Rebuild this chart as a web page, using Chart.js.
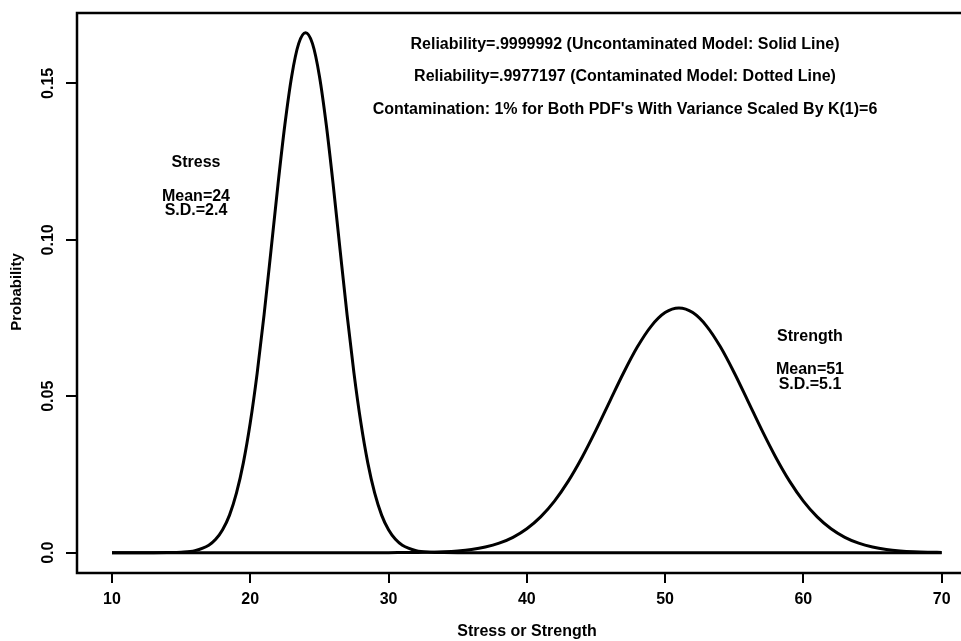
<!DOCTYPE html>
<html>
<head>
<meta charset="utf-8">
<script src="https://cdn.jsdelivr.net/npm/chart.js@4/dist/chart.umd.min.js"></script>
<style>
  html, body { margin: 0; padding: 0; background: #fff; }
  #wrap { width: 961px; height: 641px; position: relative; }
</style>
</head>
<body>
<div id="wrap"><canvas id="c"></canvas></div>
<script>
// values
var stressX = [10, 13, 14, 15, 16, 17, 17.5, 18, 18.5, 19, 19.5, 20, 20.5, 21, 21.5, 22, 22.5, 23, 23.5, 24,
  24.5, 25, 25.5, 26, 26.5, 27, 27.5, 28, 28.5, 29, 29.5, 30, 30.5, 31, 32, 33, 34, 35, 70];
var stressY = [0, 0, 0.00003, 0.00015, 0.00064, 0.00236, 0.00425, 0.0073, 0.0120, 0.0190, 0.0287, 0.0415, 0.0574, 0.0761, 0.0966, 0.1175, 0.1367, 0.1524, 0.1627, 0.1662,
  0.1627, 0.1524, 0.1367, 0.1175, 0.0966, 0.0761, 0.0574, 0.0415, 0.0287, 0.0190, 0.0120, 0.0073, 0.00425, 0.00236, 0.00064, 0.00015, 0.00003, 0, 0];

var strengthX = [10, 30, 31, 32, 33, 34, 35, 36, 37, 38, 39, 40, 41, 42, 43, 44, 45, 46, 47, 48, 49, 50,
  51, 52, 53, 54, 55, 56, 57, 58, 59, 60, 61, 62, 63, 64, 65, 66, 67, 68, 69, 70];
var strengthY = [0, 0, 0.00004, 0.00008, 0.00015, 0.00030, 0.00057, 0.00103, 0.00181, 0.00304, 0.00491, 0.00764, 0.01144, 0.01649, 0.02286, 0.03050, 0.03915, 0.04837, 0.05751, 0.06579, 0.07243, 0.07673,
  0.07822, 0.07673, 0.07243, 0.06579, 0.05751, 0.04837, 0.03915, 0.03050, 0.02286, 0.01649, 0.01144, 0.00764, 0.00491, 0.00304, 0.00181, 0.00103, 0.00057, 0.00030, 0.00015, 0.00008];

var xTicks = [10, 20, 30, 40, 50, 60, 70];
var yTicks = [0, 0.05, 0.10, 0.15];
var yTickLabels = ["0.0", "0.05", "0.10", "0.15"];

var topNotes = [
  "Reliability=.9999992 (Uncontaminated Model: Solid Line)",
  "Reliability=.9977197 (Contaminated Model: Dotted Line)",
  "Contamination: 1% for Both PDF's With Variance Scaled By K(1)=6"
];
var stressNote = ["Stress", "Mean=24", "S.D.=2.4"];
var strengthNote = ["Strength", "Mean=51", "S.D.=5.1"];

function pts(xs, ys) {
  var out = [];
  for (var i = 0; i < xs.length; i++) out.push({ x: xs[i], y: ys[i] });
  return out;
}

var FONT = "'Liberation Sans', Arial, sans-serif";

var decor = {
  id: "decor",
  afterDraw: function (chart) {
    var ctx = chart.ctx, a = chart.chartArea;
    var ys = chart.scales.y;
    ctx.save();
    // frame: left, top, bottom (right side runs off the page)
    ctx.strokeStyle = "#000";
    ctx.lineWidth = 2.5;
    ctx.beginPath();
    ctx.moveTo(961, a.top);
    ctx.lineTo(a.left, a.top);
    ctx.lineTo(a.left, a.bottom);
    ctx.lineTo(961, a.bottom);
    ctx.stroke();

    ctx.fillStyle = "#000";
    ctx.textAlign = "center";
    ctx.textBaseline = "middle";

    ctx.font = "bold 16px " + FONT;
    ctx.fillText(topNotes[0], 625, 45);
    ctx.fillText(topNotes[1], 625, 77);
    ctx.fillText(topNotes[2], 625, 110);

    ctx.fillText(stressNote[0], 196, 163);
    ctx.fillText(stressNote[1], 196, 197);
    ctx.fillText(stressNote[2], 196, 211);
    ctx.fillText(strengthNote[0], 810, 337);
    ctx.fillText(strengthNote[1], 810, 370);
    ctx.fillText(strengthNote[2], 810, 385);

    // axis titles
    ctx.fillText("Stress or Strength", 527, 632);
    ctx.save();
    ctx.translate(17, 292);
    ctx.rotate(-Math.PI / 2);
    ctx.font = "bold 15px " + FONT;
    ctx.fillText("Probability", 0, 0);
    ctx.restore();

    // rotated y tick labels
    ctx.font = "bold 16px " + FONT;
    for (var i = 0; i < yTicks.length; i++) {
      ctx.save();
      ctx.translate(49, ys.getPixelForValue(yTicks[i]));
      ctx.rotate(-Math.PI / 2);
      ctx.fillText(yTickLabels[i], 0, 0);
      ctx.restore();
    }
    ctx.restore();
  }
};

new Chart(document.getElementById("c"), {
  type: "scatter",
  data: {
    datasets: [
      { data: pts(stressX, stressY), showLine: true, borderColor: "#000", borderWidth: 3, pointRadius: 0, cubicInterpolationMode: "monotone", fill: false },
      { data: pts(strengthX, strengthY), showLine: true, borderColor: "#000", borderWidth: 3, pointRadius: 0, cubicInterpolationMode: "monotone", fill: false }
    ]
  },
  options: {
    responsive: true,
    maintainAspectRatio: false,
    animation: false,
    layout: { padding: { top: 13, right: 0, left: 0, bottom: 0 } },
    plugins: { legend: { display: false }, tooltip: { enabled: false } },
    scales: {
      x: {
        type: "linear",
        min: 7.47,
        max: 71.4,
        afterBuildTicks: function (s) { s.ticks = xTicks.map(function (v) { return { value: v }; }); },
        afterFit: function (s) { s.height = 68; },
        border: { display: false },
        grid: { drawOnChartArea: false, color: "#000", lineWidth: 2, tickLength: 10 },
        ticks: { color: "#000", font: { family: FONT, size: 16, weight: "bold" }, padding: 7, maxRotation: 0 }
      },
      y: {
        type: "linear",
        min: -0.0065,
        max: 0.1725,
        afterBuildTicks: function (s) { s.ticks = yTicks.map(function (v) { return { value: v }; }); },
        afterFit: function (s) { s.width = 77; },
        border: { display: false },
        grid: { drawOnChartArea: false, color: "#000", lineWidth: 2, tickLength: 11 },
        ticks: { display: false }
      }
    }
  },
  plugins: [decor]
});
</script>
</body>
</html>
